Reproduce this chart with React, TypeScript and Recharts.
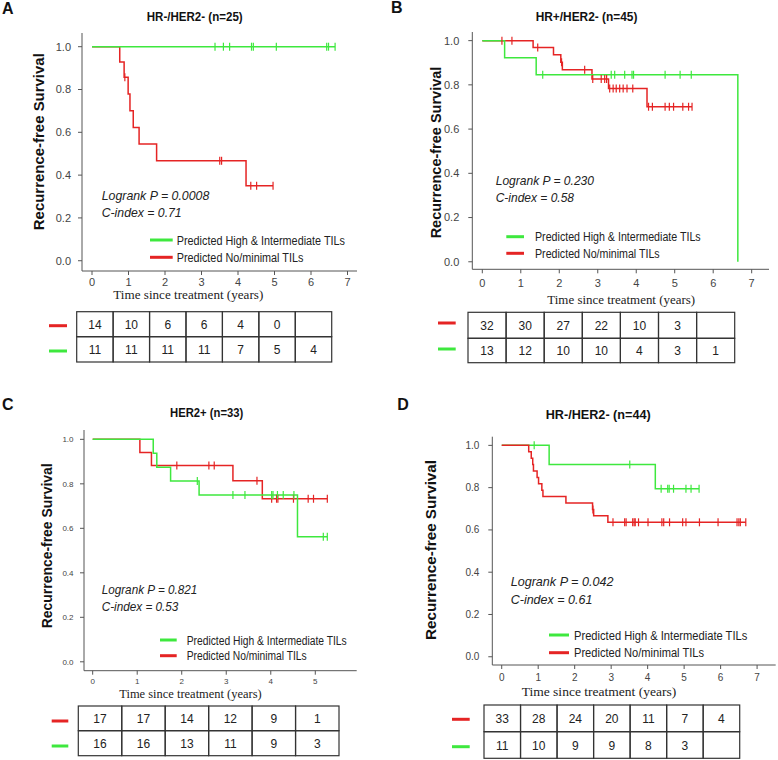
import React from 'react';
import { ComposedChart, Line, Scatter, XAxis, YAxis } from 'recharts';

const GREEN = '#3ee83e';
const RED = '#e52424';
const SANS = '"Liberation Sans", Arial, sans-serif';
const SERIF = '"Liberation Serif", "Times New Roman", serif';

const legendHigh = 'Predicted High & Intermediate TILs';
const legendLow = 'Predicted No/minimal TILs';
const xAxisTitle = 'Time since treatment (years)';
const yAxisTitle = 'Recurrence-free Survival';
const yTicks = [0, 0.2, 0.4, 0.6, 0.8, 1.0];
const xTicks7 = [0, 1, 2, 3, 4, 5, 6, 7];
const xTicks5 = [0, 1, 2, 3, 4, 5];

// ---------- Panel A ----------
const aTitle = 'HR-/HER2- (n=25)';
const aStats = ['Logrank P = 0.0008', 'C-index = 0.71'];
const aLowT = [0, 0.76, 0.88, 0.99, 1.04, 1.13, 1.29, 1.77, 4.22, 4.96];
const aLowS = [1, 0.929, 0.857, 0.779, 0.701, 0.623, 0.545, 0.467, 0.35, 0.35];
const aLowCensT = [0.9, 3.5, 3.55, 4.35, 4.51, 4.96];
const aLowCensS = [0.857, 0.467, 0.467, 0.35, 0.35, 0.35];
const aHighT = [0, 6.66];
const aHighS = [1, 1];
const aHighCensT = [3.37, 3.6, 3.77, 4.37, 4.42, 5.05, 6.43, 6.48, 6.66];
const aHighCensS = [1, 1, 1, 1, 1, 1, 1, 1, 1];
const aRiskLow = [14, 10, 6, 6, 4, 0, null];
const aRiskHigh = [11, 11, 11, 11, 7, 5, 4];

// ---------- Panel B ----------
const bTitle = 'HR+/HER2- (n=45)';
const bStats = ['Logrank P = 0.230', 'C-index = 0.58'];
const bLowT = [0, 1.32, 1.85, 2.04, 2.08, 2.85, 3.28, 4.28, 5.45];
const bLowS = [1, 0.969, 0.936, 0.902, 0.868, 0.826, 0.784, 0.701, 0.701];
const bLowCensT = [0.51, 0.77, 1.44, 2.06, 2.66, 2.87, 3.09, 3.18, 3.23, 3.31, 3.4, 3.48, 3.57, 3.66, 3.76, 3.91, 4.32, 4.42, 4.75, 4.86, 4.97, 5.21, 5.36, 5.45];
const bLowCensS = [1, 1, 0.969, 0.902, 0.868, 0.826, 0.826, 0.826, 0.826, 0.784, 0.784, 0.784, 0.784, 0.784, 0.784, 0.784, 0.701, 0.701, 0.701, 0.701, 0.701, 0.701, 0.701, 0.701];
const bHighT = [0, 0.58, 1.4, 6.64];
const bHighS = [1, 0.923, 0.846, 0];
const bHighCensT = [1.57, 3.35, 3.44, 3.7, 3.89, 3.93, 4.75, 5.14, 5.43];
const bHighCensS = [0.846, 0.846, 0.846, 0.846, 0.846, 0.846, 0.846, 0.846, 0.846];
const bRiskLow = [32, 30, 27, 22, 10, 3, null];
const bRiskHigh = [13, 12, 10, 10, 4, 3, 1];

// ---------- Panel C ----------
const cTitle = 'HER2+ (n=33)';
const cStats = ['Logrank P = 0.821', 'C-index = 0.53'];
const cLowT = [0, 1.06, 1.32, 3.15, 3.81, 5.27];
const cLowS = [1, 0.941, 0.882, 0.814, 0.733, 0.733];
const cLowCensT = [1.89, 2.61, 2.73, 3.69, 4.02, 4.13, 4.16, 4.51, 4.84, 4.96, 5.27];
const cLowCensS = [0.882, 0.882, 0.882, 0.814, 0.733, 0.733, 0.733, 0.733, 0.733, 0.733, 0.733];
const cHighT = [0, 1.36, 1.44, 1.75, 2.39, 4.6, 5.27];
const cHighS = [1, 0.9375, 0.875, 0.8125, 0.75, 0.5625, 0.5625];
const cHighCensT = [2.35, 3.15, 3.42, 4.02, 4.05, 4.15, 4.28, 4.52, 5.18, 5.27];
const cHighCensS = [0.8125, 0.75, 0.75, 0.75, 0.75, 0.75, 0.75, 0.75, 0.5625, 0.5625];
const cRiskLow = [17, 17, 14, 12, 9, 1];
const cRiskHigh = [16, 16, 13, 11, 9, 3];

// ---------- Panel D ----------
const dTitle = 'HR-/HER2- (n=44)';
const dStats = ['Logrank P = 0.042', 'C-index = 0.61'];
const dLowT = [0, 0.74, 0.81, 0.85, 0.87, 0.97, 1.01, 1.1, 1.13, 1.76, 2.49, 2.52, 2.91, 6.69];
const dLowS = [1, 0.97, 0.939, 0.909, 0.879, 0.848, 0.818, 0.788, 0.758, 0.727, 0.697, 0.667, 0.636, 0.636];
const dLowCensT = [2.5, 3.05, 3.37, 3.41, 3.59, 3.63, 3.66, 3.75, 4.01, 4.39, 4.44, 4.6, 4.96, 5.05, 5.42, 5.93, 6.45, 6.5, 6.54, 6.69];
const dLowCensS = [0.697, 0.636, 0.636, 0.636, 0.636, 0.636, 0.636, 0.636, 0.636, 0.636, 0.636, 0.636, 0.636, 0.636, 0.636, 0.636, 0.636, 0.636, 0.636, 0.636];
const dHighT = [0, 1.3, 4.21, 5.41];
const dHighS = [1, 0.909, 0.795, 0.795];
const dHighCensT = [0.89, 3.51, 4.37, 4.55, 4.59, 4.71, 5.05, 5.19, 5.41];
const dHighCensS = [1, 0.909, 0.795, 0.795, 0.795, 0.795, 0.795, 0.795, 0.795];
const dRiskLow = [33, 28, 24, 20, 11, 7, 4];
const dRiskHigh = [11, 10, 9, 9, 8, 3, null];

const pts = (t: number[], s: number[]) => t.map((v, i) => ({ t: v, s: s[i] }));

const panels = [
  {
    letter: 'A', title: aTitle, stats: aStats, riskLow: aRiskLow, riskHigh: aRiskHigh,
    low: pts(aLowT, aLowS), lowC: pts(aLowCensT, aLowCensS), high: pts(aHighT, aHighS), highC: pts(aHighCensT, aHighCensS),
    greenOnTop: true,
    box: { x: 0, y: 0, w: 389, h: 370 }, plot: { l: 82, r: 357, t: 33, b: 271 },
    xDomain: [-0.274, 7.26], yDomain: [-0.048, 1.064], xTicks: xTicks7, tickFont: 11, yTickMargin: 7, xTickMargin: 3,
    lay: { letter: [2, 13.5], title: [194.7, 20.7, 96], ylab: [38.3, 141.7, 177], xlab: [188.3, 298.5, 150], stats: [101.7, 200, 217.3, 107.6, 80], leg: [150, 172.7, 240, 257.3, 176.7, 168.3, 126.7], tab: [76.7, 36.43, 311.7, 336.7, 362], dash: [49, 67, 325.7, 351] },
  },
  {
    letter: 'B', title: bTitle, stats: bStats, riskLow: bRiskLow, riskHigh: bRiskHigh,
    low: pts(bLowT, bLowS), lowC: pts(bLowCensT, bLowCensS), high: pts(bHighT, bHighS), highC: pts(bHighCensT, bHighCensS),
    greenOnTop: true,
    box: { x: 389, y: 0, w: 389, h: 370 }, plot: { l: 472.3, r: 769, t: 32, b: 269.3 },
    xDomain: [-0.26, 7.45], yDomain: [-0.034, 1.039], xTicks: xTicks7, tickFont: 11, yTickMargin: 9, xTickMargin: 5.5,
    lay: { letter: [391, 13], title: [586.5, 20.7, 101.7], ylab: [435.7, 152.5, 171.7], xlab: [621.2, 303.8, 147.7], stats: [495.7, 185, 202.3, 98.3, 78.3], leg: [506.3, 524, 236.7, 253.3, 535, 165.7, 124.7], tab: [468, 38.1, 312.3, 338.3, 362.7], dash: [438, 455.7, 323, 349] },
  },
  {
    letter: 'C', title: cTitle, stats: cStats, riskLow: cRiskLow, riskHigh: cRiskHigh,
    low: pts(cLowT, cLowS), lowC: pts(cLowCensT, cLowCensS), high: pts(cHighT, cHighS), highC: pts(cHighCensT, cHighCensS),
    greenOnTop: true,
    box: { x: 0, y: 370, w: 389, h: 390 }, plot: { l: 84, r: 356.7, t: 430, b: 670.7 },
    xDomain: [-0.195, 5.93], yDomain: [-0.04, 1.042], xTicks: xTicks5, tickFont: 8, yTickMargin: 6.5, xTickMargin: 3.5,
    lay: { letter: [2, 410], title: [206.7, 416.7, 73.3], ylab: [46.7, 545.8, 165], xlab: [190.5, 697.5, 142.4], stats: [101.7, 594, 610.7, 95.6, 76.7], leg: [160, 176.7, 640, 655.7, 186.7, 160, 120], tab: [78.3, 43.45, 706, 730.7, 755.7], dash: [51.7, 68.3, 721, 746] },
  },
  {
    letter: 'D', title: dTitle, stats: dStats, riskLow: dRiskLow, riskHigh: dRiskHigh,
    low: pts(dLowT, dLowS), lowC: pts(dLowCensT, dLowCensS), high: pts(dHighT, dHighS), highC: pts(dHighCensT, dHighCensS),
    greenOnTop: false,
    box: { x: 389, y: 370, w: 389, h: 390 }, plot: { l: 492.3, r: 775.7, t: 436.7, b: 665 },
    xDomain: [-0.258, 7.51], yDomain: [-0.039, 1.041], xTicks: xTicks7, tickFont: 10, yTickMargin: 9, xTickMargin: 4.5,
    lay: { letter: [397.3, 410], title: [598.2, 419, 105], ylab: [430.7, 550, 180], xlab: [599, 696, 154.7], stats: [510.7, 585.5, 603.5, 102.7, 81.7], leg: [549, 569, 635, 652.7, 574, 173.3, 130], tab: [484, 36.53, 705, 731.7, 758.3], dash: [452, 469.7, 719.3, 746.7] },
  },
];

const Y_AXIS_W = 30;
const X_AXIS_H = 20;

const censorShape = (color: string) => (props: any) => {
  const { cx, cy } = props;
  if (cx == null || cy == null) return <g />;
  return <line x1={cx} x2={cx} y1={cy - 4} y2={cy + 4} stroke={color} strokeWidth={1.2} />;
};

function KMChart({ p }: { p: any }) {
  const { box, plot } = p;
  const margin = {
    left: plot.l - box.x - Y_AXIS_W,
    right: box.x + box.w - plot.r,
    top: plot.t - box.y,
    bottom: box.y + box.h - plot.b - X_AXIS_H,
  };
  const tickStyle = { fontSize: p.tickFont, fill: '#444', fontFamily: SANS };
  const redLine = (
    <Line key="rl" data={p.low} dataKey="s" type="stepAfter" stroke={RED} strokeWidth={1.5} dot={false} isAnimationActive={false} />
  );
  const greenLine = (
    <Line key="gl" data={p.high} dataKey="s" type="stepAfter" stroke={GREEN} strokeWidth={1.5} dot={false} isAnimationActive={false} />
  );
  const redC = (
    <Scatter key="rc" data={p.lowC} dataKey="s" shape={censorShape(RED)} isAnimationActive={false} />
  );
  const greenC = (
    <Scatter key="gc" data={p.highC} dataKey="s" shape={censorShape(GREEN)} isAnimationActive={false} />
  );
  const series = p.greenOnTop ? [redLine, redC, greenLine, greenC] : [greenLine, greenC, redLine, redC];
  return (
    <div style={{ position: 'absolute', left: box.x, top: box.y }}>
      <ComposedChart width={box.w} height={box.h} margin={margin}>
        <XAxis
          type="number"
          dataKey="t"
          domain={p.xDomain}
          allowDataOverflow
          ticks={p.xTicks}
          height={X_AXIS_H}
          tickSize={4}
          tickMargin={p.xTickMargin}
          tick={tickStyle}
          stroke="#555"
          interval={0}
        />
        <YAxis
          type="number"
          dataKey="s"
          domain={p.yDomain}
          allowDataOverflow
          ticks={yTicks}
          width={Y_AXIS_W}
          tickSize={4}
          tickMargin={p.yTickMargin}
          tick={tickStyle}
          tickFormatter={(v: number) => v.toFixed(1)}
          stroke="#555"
          interval={0}
        />
        {series}
      </ComposedChart>
    </div>
  );
}

function Txt(props: any) {
  const { x, y, len, size, weight, italic, family, anchor, rotate, fill, baseline, children } = props;
  return (
    <text
      x={x}
      y={y}
      fontSize={size}
      fontWeight={weight || 'normal'}
      fontStyle={italic ? 'italic' : 'normal'}
      fontFamily={family || SANS}
      textAnchor={anchor || 'start'}
      dominantBaseline={baseline || 'alphabetic'}
      fill={fill || '#111'}
      textLength={len}
      lengthAdjust={len ? 'spacingAndGlyphs' : undefined}
      transform={rotate ? `rotate(-90 ${x} ${y})` : undefined}
    >
      {children}
    </text>
  );
}

function Annotations({ p }: { p: any }) {
  const L = p.lay;
  const [tx, cw, r0, r1, r2] = L.tab;
  const n = p.riskLow.length;
  const rows = [
    { vals: p.riskLow, y0: r0, y1: r1 },
    { vals: p.riskHigh, y0: r1, y1: r2 },
  ];
  return (
    <g>
      <Txt x={L.letter[0]} y={L.letter[1]} size={16} weight="bold">{p.letter}</Txt>
      <Txt x={L.title[0]} y={L.title[1]} len={L.title[2]} size={13} weight="bold" anchor="middle">{p.title}</Txt>
      <Txt x={L.ylab[0]} y={L.ylab[1]} len={L.ylab[2]} size={15} weight="bold" anchor="middle" baseline="central" rotate>{yAxisTitle}</Txt>
      <Txt x={L.xlab[0]} y={L.xlab[1]} len={L.xlab[2]} size={13} family={SERIF} anchor="middle" fill="#222">{xAxisTitle}</Txt>
      <Txt x={L.stats[0]} y={L.stats[1]} len={L.stats[3]} size={13} italic fill="#222">{p.stats[0]}</Txt>
      <Txt x={L.stats[0]} y={L.stats[2]} len={L.stats[4]} size={13} italic fill="#222">{p.stats[1]}</Txt>
      <line x1={L.leg[0]} x2={L.leg[1]} y1={L.leg[2]} y2={L.leg[2]} stroke={GREEN} strokeWidth={3} />
      <line x1={L.leg[0]} x2={L.leg[1]} y1={L.leg[3]} y2={L.leg[3]} stroke={RED} strokeWidth={3} />
      <Txt x={L.leg[4]} y={L.leg[2] + 0.5} len={L.leg[5]} size={12} baseline="central" fill="#222">{legendHigh}</Txt>
      <Txt x={L.leg[4]} y={L.leg[3] + 0.5} len={L.leg[6]} size={12} baseline="central" fill="#222">{legendLow}</Txt>
      <line x1={L.dash[0]} x2={L.dash[1]} y1={L.dash[2]} y2={L.dash[2]} stroke={RED} strokeWidth={3} />
      <line x1={L.dash[0]} x2={L.dash[1]} y1={L.dash[3]} y2={L.dash[3]} stroke={GREEN} strokeWidth={3} />
      {rows.map((row, ri) => (
        <g key={ri}>
          {Array.from({ length: n }).map((_, i) => (
            <g key={i}>
              <rect x={tx + i * cw} y={row.y0} width={cw} height={row.y1 - row.y0} fill="none" stroke="#333" strokeWidth={1.2} />
              {row.vals[i] != null && (
                <Txt x={tx + i * cw + cw / 2} y={(row.y0 + row.y1) / 2 + 0.5} size={12} anchor="middle" baseline="central" fill="#222">
                  {String(row.vals[i])}
                </Txt>
              )}
            </g>
          ))}
        </g>
      ))}
    </g>
  );
}

export default function App() {
  return (
    <div style={{ position: 'absolute', left: 0, top: 0, width: 778, height: 760, background: '#fff', overflow: 'hidden' }}>
      {panels.map((p) => (
        <KMChart key={p.letter} p={p} />
      ))}
      <svg width={778} height={760} style={{ position: 'absolute', left: 0, top: 0, pointerEvents: 'none' }}>
        {panels.map((p) => (
          <Annotations key={p.letter} p={p} />
        ))}
      </svg>
    </div>
  );
}
